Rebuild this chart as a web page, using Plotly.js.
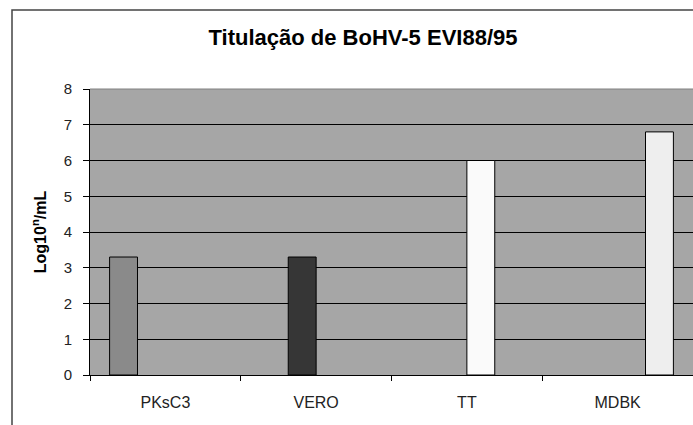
<!DOCTYPE html>
<html>
<head>
<meta charset="utf-8">
<script src="https://cdn.plot.ly/plotly-3.0.1.min.js"></script>
<style>html,body{margin:0;padding:0;background:#fff;}#chart{width:693px;height:425px;}</style>
</head>
<body>
<div id="chart"></div>
<script>
const categories = ["PKsC3", "VERO", "TT", "MDBK"];
const seriesNames = ["PKsC3", "VERO", "TT", "MDBK"];
const titerPKsC3 = [3.3, null, null, null];
const titerVERO = [null, 3.3, null, null];
const titerTT = [null, null, 6.0, null];
const titerMDBK = [null, null, null, 6.8];
const yTicks = [0, 1, 2, 3, 4, 5, 6, 7, 8];

const seriesValues = [titerPKsC3, titerVERO, titerTT, titerMDBK];
const seriesColors = ["#8a8a8a", "#363636", "#fafafa", "#eeeeee"];

const traces = seriesValues.map((vals, i) => ({
  type: "bar",
  name: seriesNames[i],
  x: categories,
  y: vals,
  marker: { color: seriesColors[i], line: { color: "#000", width: 1 } },
  hoverinfo: "x+y"
}));

const layout = {
  width: 693,
  height: 425,
  margin: { l: 90, r: 0, t: 89, b: 50 },
  paper_bgcolor: "#ffffff",
  plot_bgcolor: "#a6a6a6",
  showlegend: false,
  barmode: "group",
  bargap: 0.26,
  bargroupgap: 0,
  font: { family: "Liberation Sans, Arial, sans-serif", color: "#000", size: 15 },
  title: {
    text: "<b>Titulação de BoHV-5 EVI88/95</b>",
    font: { size: 22, family: "Liberation Sans, Arial, sans-serif", color: "#000" },
    xref: "container", x: 363 / 693, xanchor: "center",
    yref: "container", y: 1 - 37 / 425, yanchor: "middle"
  },
  xaxis: {
    type: "category",
    showgrid: false,
    showline: true,
    linecolor: "#000",
    linewidth: 1,
    ticks: "outside",
    ticklen: 5,
    tickcolor: "#000",
    tickson: "boundaries",
    tickfont: { size: 16, color: "#222" },
    ticklabelstandoff: 13,
    zeroline: false,
    fixedrange: true
  },
  yaxis: {
    range: [0, 8],
    tickvals: yTicks,
    ticktext: yTicks.map(String),
    showgrid: true,
    gridcolor: "#000",
    gridwidth: 1,
    showline: true,
    linecolor: "#000",
    linewidth: 1,
    ticks: "outside",
    ticklen: 6,
    tickcolor: "#000",
    tickfont: { size: 15, color: "#222" },
    ticklabelstandoff: 8,
    zeroline: false,
    title: {
      text: "<b>Log10<sup>n</sup>/mL</b>",
      font: { size: 16 },
      standoff: 13
    },
    fixedrange: true
  },
  shapes: [
    {
      type: "rect", xref: "paper", yref: "paper",
      x0: (12 - 90) / 603, x1: 1.2, y0: -0.3, y1: 1 + (89 - 10) / 286,
      line: { color: "#444", width: 1.5 }, fillcolor: "rgba(0,0,0,0)", layer: "below"
    },
    {
      type: "line", xref: "paper", yref: "paper",
      x0: 0, x1: 1, y0: 1, y1: 1,
      line: { color: "#808080", width: 1 }
    }
  ]
};

Plotly.newPlot("chart", traces, layout, { displayModeBar: false, staticPlot: true });
</script>
</body>
</html>
